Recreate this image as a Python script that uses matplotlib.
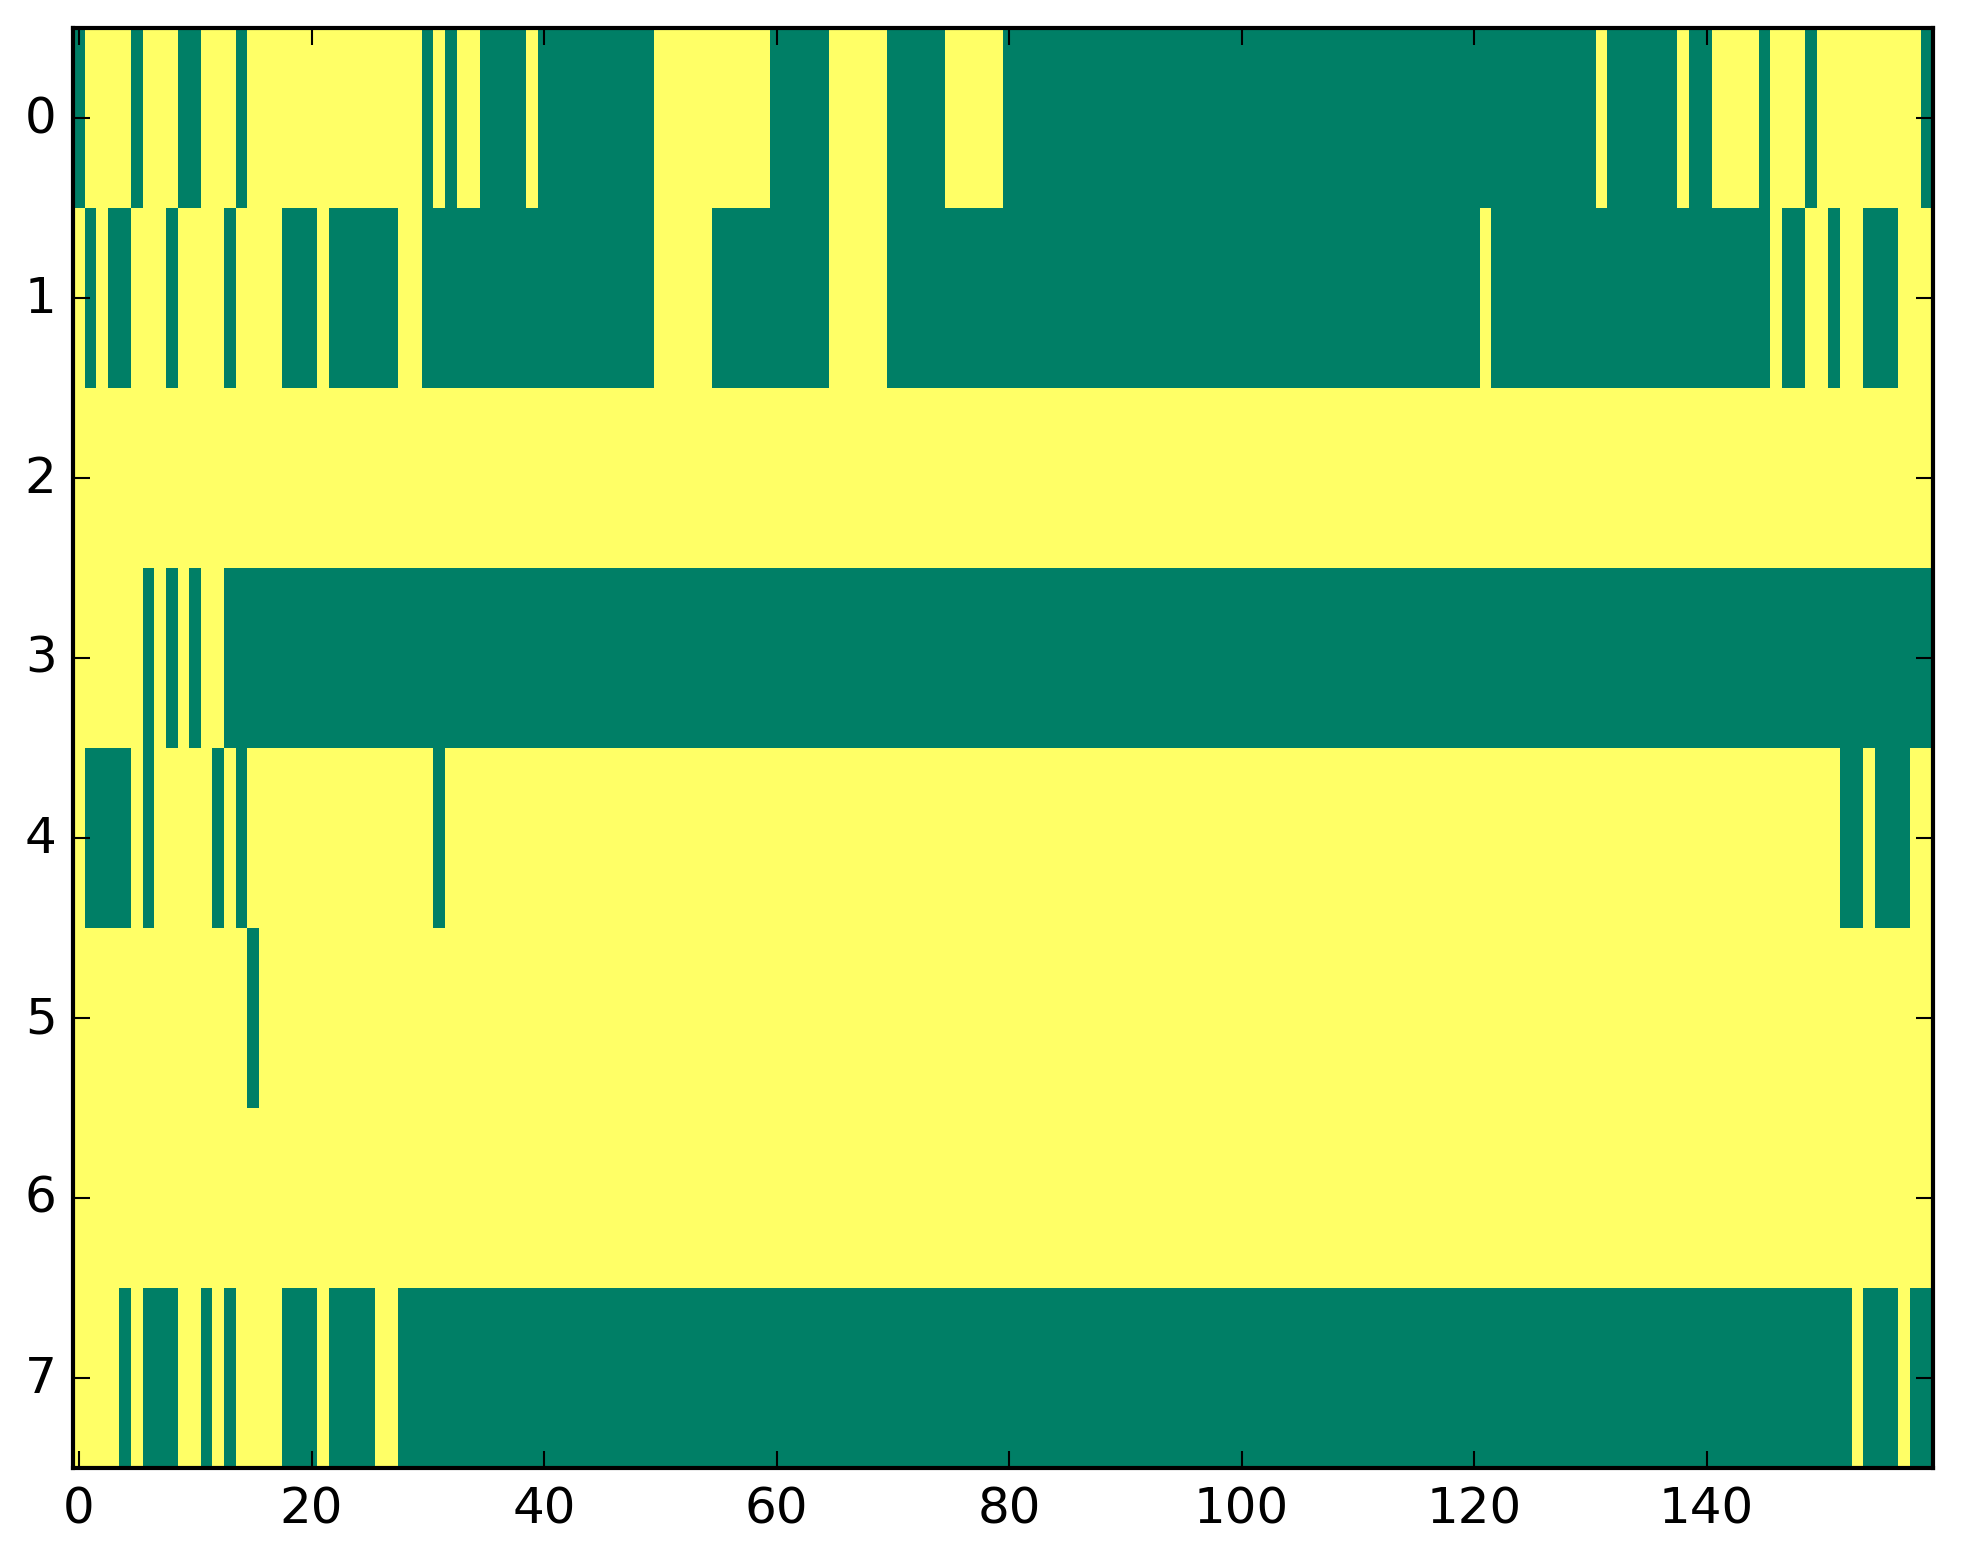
import numpy as np
import matplotlib
matplotlib.use("Agg")
import matplotlib.pyplot as plt

plt.style.use("classic")

n_rows = 8
n_cols = 160

# Green (value 0) runs per row, inclusive column ranges; everything else is 1 (yellow)
row0_green = [(0, 0), (5, 5), (9, 10), (14, 14), (30, 30), (32, 32), (35, 38), (40, 49),
              (60, 64), (70, 74), (80, 130), (132, 137), (139, 140), (145, 145),
              (149, 149), (159, 159)]
row1_green = [(1, 1), (3, 4), (8, 8), (13, 13), (18, 20), (22, 27), (30, 49), (55, 64),
              (70, 120), (122, 145), (147, 148), (151, 151), (154, 156)]
row2_green = []
row3_green = [(6, 6), (8, 8), (10, 10), (13, 159)]
row4_green = [(1, 4), (6, 6), (12, 12), (14, 14), (31, 31), (152, 153), (155, 157)]
row5_green = [(15, 15)]
row6_green = []
row7_green = [(4, 4), (6, 8), (11, 11), (13, 13), (18, 20), (22, 25), (28, 152),
              (154, 156), (158, 159)]

green_runs = [row0_green, row1_green, row2_green, row3_green,
              row4_green, row5_green, row6_green, row7_green]

data = np.ones((n_rows, n_cols))
for r, runs in enumerate(green_runs):
    for a, b in runs:
        data[r, a:b + 1] = 0

xticks = [0, 20, 40, 60, 80, 100, 120, 140]
yticks = list(range(n_rows))

W, H = 1963, 1564
dpi = 300
fig = plt.figure(figsize=(W / dpi, H / dpi), dpi=dpi, facecolor="white")
ax = fig.add_axes([73.2 / W, (H - 1469) / H, 1860 / W, 1440 / H])
ax.imshow(data, cmap="summer", vmin=0, vmax=1, interpolation="nearest", aspect="auto")
ax.set_xticks(xticks)
ax.set_yticks(yticks)
ax.set_xlim(-0.5, n_cols - 0.5)
ax.set_ylim(n_rows - 0.5, -0.5)
ax.tick_params(labelsize=12)
fig.savefig("out.png", dpi=dpi, facecolor="white")
